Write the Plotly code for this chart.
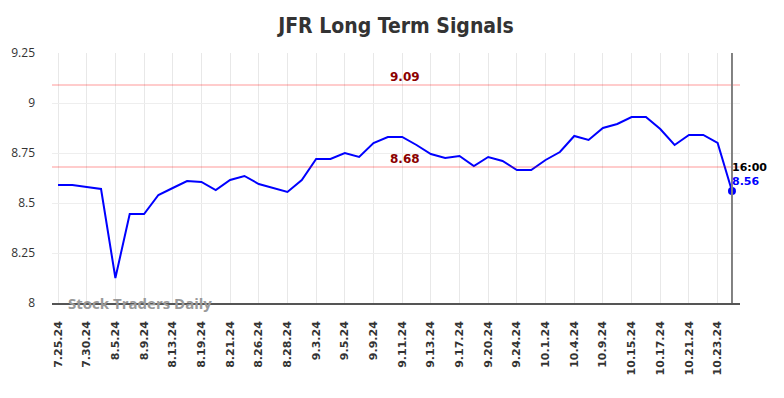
import plotly.graph_objects as go

dates = ["7.25.24","7.26.24","7.30.24","8.2.24","8.5.24","8.6.24","8.9.24","8.12.24",
         "8.13.24","8.16.24","8.19.24","8.20.24","8.21.24","8.23.24","8.26.24","8.27.24",
         "8.28.24","8.30.24","9.3.24","9.4.24","9.5.24","9.6.24","9.9.24","9.10.24",
         "9.11.24","9.12.24","9.13.24","9.16.24","9.17.24","9.19.24","9.20.24","9.23.24",
         "9.24.24","9.26.24","10.1.24","10.2.24","10.4.24","10.8.24","10.9.24","10.11.24",
         "10.15.24","10.16.24","10.17.24","10.18.24","10.21.24","10.22.24","10.23.24","10.25.24"]
prices = [8.59, 8.59, 8.58, 8.57, 8.125, 8.445, 8.445, 8.54,
          8.575, 8.61, 8.605, 8.565, 8.615, 8.635, 8.595, 8.575,
          8.555, 8.615, 8.72, 8.72, 8.75, 8.73, 8.80, 8.83,
          8.83, 8.79, 8.745, 8.725, 8.735, 8.685, 8.73, 8.71,
          8.665, 8.665, 8.715, 8.755, 8.835, 8.815, 8.875, 8.895,
          8.93, 8.93, 8.87, 8.79, 8.84, 8.84, 8.80, 8.56]
tick_labels = dates[0::2]
y_ticks = [8, 8.25, 8.5, 8.75, 9, 9.25]
y_tick_text = ["8", "8.25", "8.5", "8.75", "9", "9.25"]
upper_signal = 9.09
lower_signal = 8.68
last_time = "16:00"

fig = go.Figure()
fig.add_trace(go.Scatter(x=dates, y=prices, mode="lines",
                         line=dict(color="#0000ff", width=2), hoverinfo="skip"))
fig.add_trace(go.Scatter(x=[dates[-1]], y=[prices[-1]], mode="markers",
                         marker=dict(color="#0000ff", size=8), hoverinfo="skip"))

for lvl in (upper_signal, lower_signal):
    fig.add_shape(type="line", xref="paper", x0=0, x1=1, yref="y", y0=lvl, y1=lvl,
                  line=dict(color="rgba(255,0,0,0.2)", width=2))
    fig.add_annotation(x=dates[24], y=lvl, text=f"<b>{lvl:.2f}</b>", showarrow=False,
                       yshift=8, xshift=3, font=dict(color="#8b0000", size=12, family="DejaVu Sans"))

fig.add_shape(type="line", xref="x", x0=dates[-1], x1=dates[-1], yref="paper", y0=0, y1=1,
              line=dict(color="#808080", width=2))

fig.add_annotation(x=dates[-1], y=prices[-1], text=f"<b>{last_time}</b>", showarrow=False,
                   xanchor="left", xshift=-2, yshift=24,
                   font=dict(color="#000000", size=11, family="DejaVu Sans"))
fig.add_annotation(x=dates[-1], y=prices[-1], text=f"<b>{prices[-1]:.2f}</b>", showarrow=False,
                   xanchor="left", xshift=-2, yshift=10,
                   font=dict(color="#0000ff", size=11, family="DejaVu Sans"))

fig.add_annotation(xref="paper", yref="paper", x=0.02, y=0.0, text="<b>Stock Traders Daily</b>",
                   showarrow=False, xanchor="left", yanchor="middle",
                   font=dict(color="#999999", size=15, family="Open Sans"))

fig.update_layout(
    width=776, height=390,
    margin=dict(l=44, r=44, t=45, b=95),
    paper_bgcolor="white", plot_bgcolor="white",
    showlegend=False,
    title=dict(text="<b>JFR Long Term Signals</b>", x=0.5, xanchor="center", y=0.955, yanchor="middle",
               font=dict(size=21, color="#333333", family="DejaVu Sans Condensed")),
    xaxis=dict(type="category", tickmode="array", tickvals=tick_labels, ticktext=[f"<b>{t}</b>" for t in tick_labels],
               tickangle=-90, range=[-0.42, 47.56], automargin=False, ticklabelstandoff=12,
               tickfont=dict(size=11, color="#333333", family="DejaVu Sans"),
               showgrid=True, gridcolor="#e8e8e8", gridwidth=1,
               showline=True, linecolor="#555555", linewidth=1.5, ticks="", ticklen=0),
    yaxis=dict(range=[8, 9.25], tickvals=y_ticks, ticktext=y_tick_text, automargin=False,
               tickfont=dict(size=12, color="#333333", family="Open Sans"),
               showgrid=True, gridcolor="#eeeeee", gridwidth=1, zeroline=False,
               showline=False, ticks="", ticklabelstandoff=16),
)

fig.write_html("out.html")
